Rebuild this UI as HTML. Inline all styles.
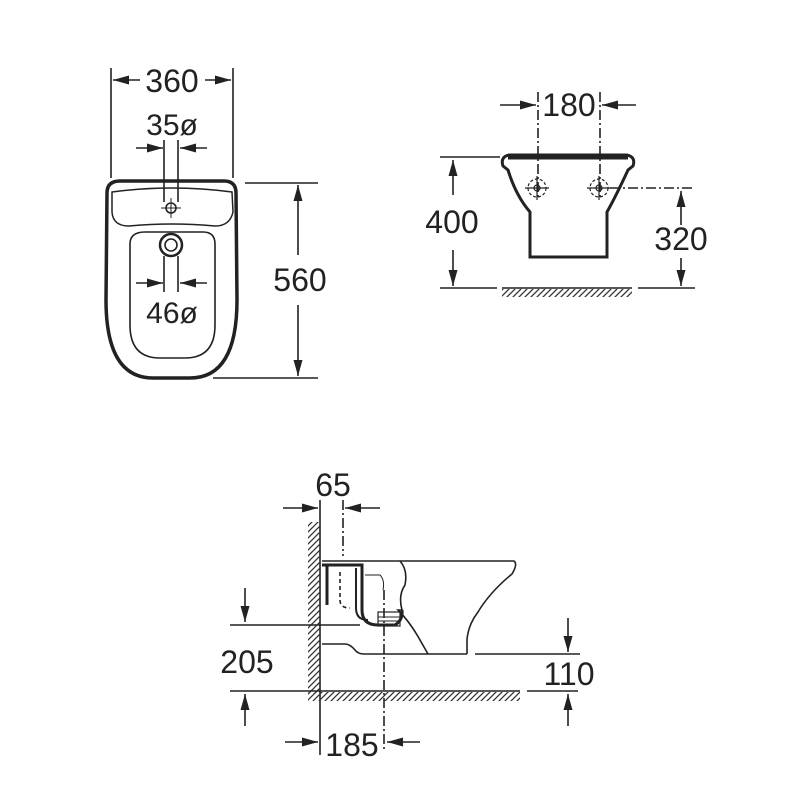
<!DOCTYPE html>
<html><head><style>html,body{margin:0;padding:0;background:#fff}svg{display:block}text{font-family:"Liberation Sans",sans-serif;fill:#222}</style></head><body>
<svg width="800" height="800" viewBox="0 0 800 800" xmlns="http://www.w3.org/2000/svg">
<defs>
<marker id="a" viewBox="0 0 16 9" refX="16" refY="4.5" markerWidth="16" markerHeight="9" markerUnits="userSpaceOnUse" orient="auto"><path d="M0,0L16,4.5L0,9z" fill="#222"/></marker>
<pattern id="h" width="6" height="6" patternUnits="userSpaceOnUse"><path d="M0,6L6,0M-1,1L1,-1M5,7L7,5" stroke="#333" stroke-width="1.3"/></pattern>
</defs>
<g stroke="#222" fill="none" stroke-width="1.6">
<line x1="111" y1="68" x2="111" y2="178"/><line x1="233" y1="68" x2="233" y2="178"/>
<line x1="140" y1="80" x2="113" y2="80" marker-end="url(#a)"/>
<line x1="205" y1="80" x2="231" y2="80" marker-end="url(#a)"/>
<line x1="136" y1="148" x2="163" y2="148" marker-end="url(#a)"/>
<line x1="207" y1="148" x2="180" y2="148" marker-end="url(#a)"/>
<line x1="164" y1="140" x2="164" y2="202"/><line x1="178" y1="140" x2="178" y2="202"/>
<path d="M120,181 H224 Q236,181 236,193 L237,300 Q237,378 190,378 H153 Q106,378 106,300 L107,193 Q107,181 120,181Z" stroke-width="3.5"/>
<path d="M112,192 Q172,184 232,192 L233,212 Q230,226 215,226 Q172,222 129,226 Q113,226 112,212Z" stroke-width="1.5"/>
<path d="M145,232 H203 Q215,232 215,244 V325 Q215,358 185,358 H160 Q130,358 130,325 V244 Q130,232 145,232Z"/>
<circle cx="171" cy="208" r="5"/><path d="M171,198V218M161,208H181" stroke-width="1"/>
<circle cx="171" cy="245" r="11" stroke-width="2.5"/><circle cx="171" cy="245" r="6"/>
<line x1="164" y1="256" x2="164" y2="292"/><line x1="178" y1="256" x2="178" y2="292"/>
<line x1="136" y1="283" x2="163" y2="283" marker-end="url(#a)"/>
<line x1="207" y1="283" x2="180" y2="283" marker-end="url(#a)"/>
<line x1="245" y1="183" x2="318" y2="183"/><line x1="213" y1="378" x2="318" y2="378"/>
<line x1="298" y1="255" x2="298" y2="185" marker-end="url(#a)"/>
<line x1="298" y1="305" x2="298" y2="376" marker-end="url(#a)"/>
<path d="M509,155 H627 Q636,157 633,166 L628,170 Q616,196 607,212 V257 H530 V212 Q516,196 508,170 L503,166 Q500,157 509,155Z" stroke-width="3"/>
<line x1="508" y1="158" x2="628" y2="158" stroke-width="3"/>
<g stroke-dasharray="10,3,2,3"><line x1="538" y1="92" x2="538" y2="200"/><line x1="600" y1="92" x2="600" y2="200"/><line x1="610" y1="188" x2="695" y2="188"/></g>
<line x1="500" y1="105" x2="536" y2="105" marker-end="url(#a)"/>
<line x1="636" y1="105" x2="602" y2="105" marker-end="url(#a)"/>
<g stroke-width="1.2"><circle cx="537" cy="188" r="3"/><circle cx="537" cy="188" r="9" stroke-dasharray="3,2"/><path d="M525,188H549M537,176V200"/><circle cx="599" cy="188" r="3"/><circle cx="599" cy="188" r="9" stroke-dasharray="3,2"/><path d="M587,188H611M599,176V200"/></g>
<line x1="440" y1="157" x2="500" y2="157"/>
<line x1="440" y1="288" x2="497" y2="288"/><line x1="638" y1="288" x2="695" y2="288"/>
<rect x="502" y="289" width="130" height="8" fill="url(#h)" stroke="none"/>
<line x1="502" y1="288" x2="632" y2="288"/>
<line x1="453" y1="195" x2="453" y2="160" marker-end="url(#a)"/>
<line x1="453" y1="250" x2="453" y2="286" marker-end="url(#a)"/>
<line x1="681" y1="225" x2="681" y2="191" marker-end="url(#a)"/>
<line x1="681" y1="258" x2="681" y2="286" marker-end="url(#a)"/>
<line x1="320" y1="500" x2="320" y2="755"/>
<rect x="308" y="522" width="12" height="172" fill="url(#h)" stroke="none"/>
<rect x="308" y="692" width="212" height="9" fill="url(#h)" stroke="none"/>
<line x1="230" y1="691" x2="520" y2="691"/><line x1="527" y1="691" x2="578" y2="691"/>
<line x1="343" y1="500" x2="343" y2="556" stroke-dasharray="10,3,2,3"/>
<line x1="283" y1="508" x2="318" y2="508" marker-end="url(#a)"/>
<line x1="380" y1="508" x2="345" y2="508" marker-end="url(#a)"/>
<path d="M322,561 H514 Q518,564 512,574 Q490,592 478,612 Q468,625 467,640 V654"/>
<path d="M322,644 H345 Q350,644 355,650 Q358,654 364,654 H467"/>
<line x1="475" y1="654" x2="580" y2="654"/>
<path d="M400,561 Q408,570 405,585 Q398,595 402,610 L398,610 Q410,622 420,640 L428,654"/>
<path d="M322,565 H362 V610 Q362,625 378,625 H395 Q403,620 402,610" stroke-width="3"/>
<path d="M356,568 V608 Q356,620 368,620" stroke-width="2"/>
<path d="M327,565 V605" stroke-width="3"/>
<path d="M340,572 V600 Q340,608 350,608" stroke-dasharray="4,3"/>
<path d="M365,575 H380 Q385,580 383,590" stroke-width="1"/>
<rect x="378" y="612" width="22" height="14" stroke-width="1.2"/>
<path d="M378,617H400M378,621H400" stroke-width="1"/>
<line x1="230" y1="625" x2="360" y2="625"/>
<line x1="384" y1="590" x2="384" y2="750" stroke-dasharray="10,3,2,3"/>
<line x1="245" y1="588" x2="245" y2="622" marker-end="url(#a)"/>
<line x1="245" y1="726" x2="245" y2="694" marker-end="url(#a)"/>
<line x1="568" y1="618" x2="568" y2="652" marker-end="url(#a)"/>
<line x1="568" y1="726" x2="568" y2="694" marker-end="url(#a)"/>
<line x1="285" y1="742" x2="318" y2="742" marker-end="url(#a)"/>
<line x1="420" y1="742" x2="387" y2="742" marker-end="url(#a)"/>
</g>
<g font-size="32" text-anchor="middle">
<text x="172" y="92">360</text>
<text x="172" y="135" font-size="30">35ø</text>
<text x="172" y="323" font-size="30">46ø</text>
<text x="300" y="291">560</text>
<text x="569" y="116">180</text>
<text x="452" y="233">400</text>
<text x="681" y="250">320</text>
<text x="333" y="496">65</text>
<text x="247" y="673">205</text>
<text x="569" y="685">110</text>
<text x="352" y="756">185</text>
</g>
</svg>
</body></html>
